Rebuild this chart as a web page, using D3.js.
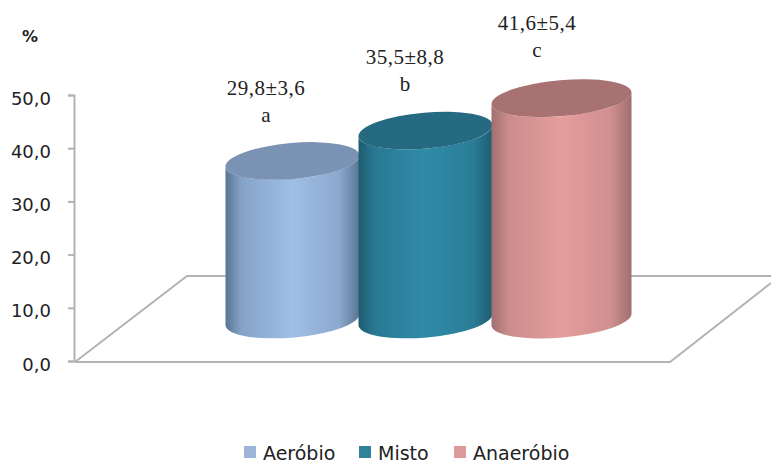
<!DOCTYPE html>
<html><head><meta charset="utf-8">
<script src="https://cdn.jsdelivr.net/npm/d3@7"></script>
<style>html,body{margin:0;padding:0;background:#fff;overflow:hidden}svg{display:block}</style>
</head><body><div id="c"></div>
<script>
const categories = ["Aeróbio","Misto","Anaeróbio"];
const means = [29.8,35.5,41.6];
const sds = [3.6,8.8,5.4];
const letters = ["a","b","c"];
const yTicks = [0,10,20,30,40,50];
const sideDark = ["#5a7594","#1f5c70","#a06f6f"];
const sideLight = ["#a0bfe6","#2f8ba8","#e69d9d"];
const topFill = ["#7a92b4","#256a80","#a87272"];
const legendFill = ["#9db5d8","#2f8298","#dd9a9a"];

const W=771,H=461;
const svg=d3.select("#c").append("svg").attr("width",W).attr("height",H);
const y=d3.scaleLinear().domain([0,50]).range([361,95]);
const x=d3.scaleBand().domain(categories).range([226,625]).paddingInner(0);
const fmt=v=>d3.format(".1f")(v).replace(".",",");
const axisX=74, grey="#b3b3b3";

// floor
svg.append("path").attr("fill","none").attr("stroke",grey).attr("stroke-width",2)
  .attr("d","M75,362 L187,276 L771,276 M771,283 L670,362 L75,362");
// axis
const ax=svg.append("g").attr("transform",`translate(${axisX},0)`)
  .call(d3.axisLeft(y).tickValues(yTicks).tickFormat(fmt).tickSize(6).tickPadding(17));
ax.selectAll("path,line").attr("stroke",grey).attr("stroke-width",2);
ax.selectAll("text").attr("font-family","'DejaVu Sans'").attr("font-size",18).attr("fill","#222");
ax.selectAll(".tick text").attr("dy","0.5em");

svg.append("text").text("%").attr("x",22).attr("y",42).attr("font-family","'DejaVu Sans'")
  .attr("font-weight","bold").attr("font-size",16).attr("fill","#222");

// gradients
const defs=svg.append("defs");
categories.forEach((c,i)=>{
  const g=defs.append("linearGradient").attr("id","g"+i);
  [[0,sideDark[i]],[.12,d3.interpolateRgb(sideDark[i],sideLight[i])(.62)],[.5,sideLight[i]],[.85,d3.interpolateRgb(sideDark[i],sideLight[i])(.7)],[1,sideDark[i]]]
   .forEach(s=>g.append("stop").attr("offset",s[0]).attr("stop-color",s[1]));
});

// cylinders
const ry=18, tilt=-5, baseOffset=41.5, dy=6;
const labelX=[266,405,537], labelY=[95,64,30], extraW=[0,0,6];
categories.forEach((c,i)=>{
  const w=x.bandwidth()+extraW[i];
  const cx=x(c)+w/2;
  const topC=y(means[i])-baseOffset, botC=y(0)-baseOffset;
  const r=w/2+0.5;
  const l=cx-r, rr=cx+r;
  const ar=Math.hypot(r,dy);
  const body=`M${l},${topC+dy} L${l},${botC+dy} A${ar},${ry} ${tilt} 0 0 ${rr},${botC-dy} L${rr},${topC-dy} A${ar},${ry} ${tilt} 0 1 ${l},${topC+dy} Z`;
  svg.append("path").attr("d",body).attr("fill",`url(#g${i})`);
  svg.append("ellipse").attr("cx",cx).attr("cy",topC).attr("rx",ar).attr("ry",ry)
     .attr("transform",`rotate(${tilt} ${cx} ${topC})`).attr("fill",topFill[i]);
  svg.append("text").text(`${fmt(means[i])}±${fmt(sds[i])}`).attr("x",labelX[i]).attr("y",labelY[i])
     .attr("text-anchor","middle").attr("font-family","'Liberation Serif'").attr("font-size",21)
     .attr("letter-spacing",0.5).attr("fill","#222");
  svg.append("text").text(letters[i]).attr("x",labelX[i]).attr("y",labelY[i]+27)
     .attr("text-anchor","middle").attr("font-family","'Liberation Serif'").attr("font-size",21).attr("fill","#222");
});

// legend
const legendX=[244,359,454];
categories.forEach((c,i)=>{
  svg.append("rect").attr("x",legendX[i]).attr("y",446).attr("width",12).attr("height",12).attr("fill",legendFill[i]);
  svg.append("text").text(c).attr("x",legendX[i]+19).attr("y",460).attr("font-family","'DejaVu Sans'")
     .attr("font-size",19).attr("fill","#222");
});
</script></body></html>
